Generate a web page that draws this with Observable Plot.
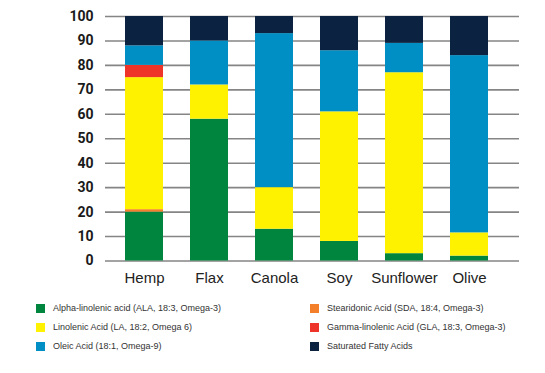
<!DOCTYPE html>
<html>
<head>
<meta charset="utf-8">
<script src="https://cdn.jsdelivr.net/npm/d3@7"></script>
<script src="https://cdn.jsdelivr.net/npm/@observablehq/plot@0.6"></script>
<style>
  html, body { margin: 0; padding: 0; background: #fff; }
  #wrap { position: relative; width: 545px; height: 373px; }
  #legend { position: absolute; left: 0; top: 303px; width: 545px; font-family: "Liberation Sans", Arial, sans-serif; font-size: 9px; color: #333; }
  .item { position: absolute; display: flex; align-items: center; white-space: nowrap; }
  .sw { width: 9px; height: 9px; margin-right: 8px; }
</style>
</head>
<body>
<div id="wrap">
  <div id="chart"></div>
  <div id="legend"></div>
</div>
<script>
const oils = ["Hemp", "Flax", "Canola", "Soy", "Sunflower", "Olive"];
const acids = [
  "Alpha-linolenic acid (ALA, 18:3, Omega-3)",
  "Stearidonic Acid (SDA, 18:4, Omega-3)",
  "Linolenic Acid (LA, 18:2, Omega 6)",
  "Gamma-linolenic Acid (GLA, 18:3, Omega-3)",
  "Oleic Acid (18:1, Omega-9)",
  "Saturated Fatty Acids"
];
const ala   = [20, 58, 13, 8, 3, 2];
const sda   = [1, 0, 0, 0, 0, 0];
const la    = [54, 14, 17, 53, 74, 9.5];
const gla   = [5, 0, 0, 0, 0, 0];
const oleic = [8, 18, 63, 25, 12, 72.5];
const sat   = [12, 10, 7, 14, 11, 16];
const yTicks = [0, 10, 20, 30, 40, 50, 60, 70, 80, 90, 100];
const colors = ["#00853f", "#f47f2a", "#fff200", "#ee3329", "#008fc4", "#0b2340"];

const series = [ala, sda, la, gla, oleic, sat];
const data = [];
series.forEach((vals, i) => {
  vals.forEach((v, j) => data.push({oil: oils[j], acid: acids[i], value: v}));
});

const chart = Plot.plot({
  width: 545,
  height: 298,
  marginLeft: 105,
  marginRight: 26,
  marginTop: 16,
  marginBottom: 37.5,
  style: {fontFamily: "Liberation Sans, Arial, sans-serif", background: "#fff"},
  x: {domain: oils, paddingInner: 0.42, paddingOuter: 0.365, align: 0.397, label: null, tickSize: 0, tickPadding: 11},
  y: {domain: [0, 100], ticks: yTicks, label: null},
  color: {domain: acids, range: colors},
  marks: [
    Plot.ruleY(yTicks, {stroke: "#858585", strokeWidth: 1.6}),
    Plot.barY(data, {x: "oil", y: "value", fill: "acid", order: acids}),
    Plot.axisX({tickSize: 0, tickPadding: 11, fontSize: 15, fill: "#222", label: null}),
    Plot.axisY(yTicks, {tickSize: 0, tickPadding: 12, fontSize: 14, fontWeight: 700, fill: "#1a1a1a", label: null, fontFamily: "Roboto, sans-serif"})
  ]
});
document.getElementById("chart").appendChild(chart);

const legend = document.getElementById("legend");
const pos = [[36, 0], [310, 0], [36, 1], [310, 1], [36, 2], [310, 2]];
acids.forEach((name, i) => {
  const [x, r] = pos[i];
  const it = document.createElement("div");
  it.className = "item";
  it.style.left = x + "px";
  it.style.top = (r * 19) + "px";
  const sw = document.createElement("div");
  sw.className = "sw";
  sw.style.background = colors[i];
  const t = document.createElement("span");
  t.textContent = name;
  it.appendChild(sw);
  it.appendChild(t);
  legend.appendChild(it);
});
</script>
</body>
</html>
